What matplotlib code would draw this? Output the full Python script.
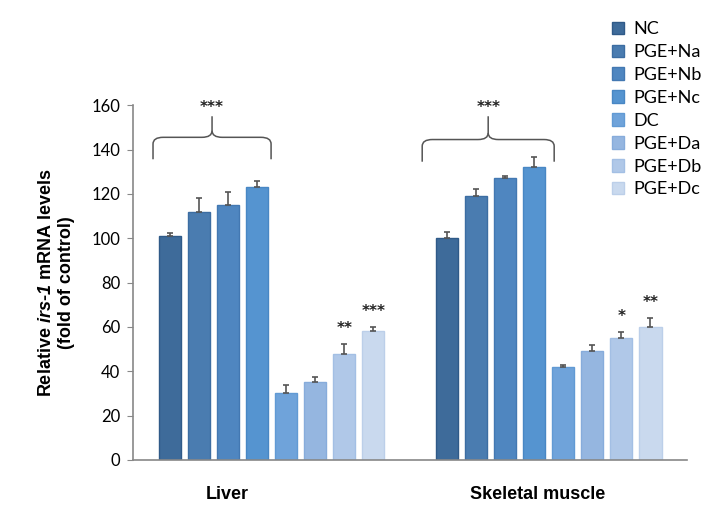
import numpy as np
import matplotlib
matplotlib.use("Agg")
import matplotlib.pyplot as plt
from matplotlib.path import Path
from matplotlib.patches import PathPatch

plt.rcParams["mathtext.fontset"] = "custom"
plt.rcParams["mathtext.bfit"] = "Liberation Sans:italic:bold"

# data
tissues = ["Liver", "Skeletal muscle"]
groups = ["NC", "PGE+Na", "PGE+Nb", "PGE+Nc", "DC", "PGE+Da", "PGE+Db", "PGE+Dc"]
liver = [101, 112, 115, 123, 30, 35, 48, 58]
liver_err = [1.5, 6, 6, 3, 4, 2.5, 4.5, 2]
muscle = [100, 119, 127, 132, 42, 49, 55, 60]
muscle_err = [3, 3, 1, 4.5, 1, 3, 2.5, 4]
liver_stars = ["", "", "", "", "", "", "**", "***"]
muscle_stars = ["", "", "", "", "", "", "*", "**"]
colors = ["#3e6b9a", "#4a7cb0", "#4f86c0", "#5594d0",
          "#6fa3da", "#95b6e0", "#b0c8e8", "#c9d9ee"]
edges = ["#2f5a88", "#3c6da2", "#4378b2", "#4887c4",
         "#619ad4", "#87acdb", "#a3bfe4", "#bccfe9"]

fig = plt.figure(figsize=(7.09, 5.15), dpi=100)
ax = fig.add_axes([0.1876, 0.1068, 0.781, 0.689])

centers = [0, 9.55]
w = 0.76
for c, vals, errs, stars in zip(centers, [liver, muscle], [liver_err, muscle_err],
                                [liver_stars, muscle_stars]):
    xs = c + np.arange(8) - 3.5
    for i in range(8):
        ax.bar(xs[i], vals[i], width=w, color=colors[i], edgecolor=edges[i], lw=1,
               label=groups[i] if c == 0 else None, zorder=2)
        ax.errorbar(xs[i], vals[i], yerr=[[0], [errs[i]]], fmt="none",
                    ecolor="#555555", elinewidth=1.2, capsize=2, capthick=1.2, zorder=3)
        if stars[i]:
            ax.text(xs[i], vals[i] + errs[i] + 7, stars[i], ha="center", va="center",
                    fontsize=11, fontweight="bold", color="#222222")


def brace(x0, x1, yb, ye, yt):
    xm = (x0 + x1) / 2
    r = 0.35
    verts = [(x0, ye), (x0, yb - 3), (x0, yb), (x0 + r, yb),
             (xm - r, yb), (xm, yb), (xm, yb + 3), (xm, yt)]
    codes = [Path.MOVETO, Path.LINETO, Path.CURVE3, Path.CURVE3,
             Path.LINETO, Path.CURVE3, Path.CURVE3, Path.LINETO]
    ax.add_patch(PathPatch(Path(verts, codes), fill=False, ec="#555555", lw=1.1, clip_on=False))
    verts = [(x1, ye), (x1, yb - 3), (x1, yb), (x1 - r, yb),
             (xm + r, yb), (xm, yb), (xm, yb + 3)]
    codes = [Path.MOVETO, Path.LINETO, Path.CURVE3, Path.CURVE3,
             Path.LINETO, Path.CURVE3, Path.CURVE3]
    ax.add_patch(PathPatch(Path(verts, codes), fill=False, ec="#555555", lw=1.1, clip_on=False))
    ax.text(xm, yt + 4, "***", ha="center", va="center", fontsize=11,
            fontweight="bold", color="#222222", clip_on=False)


brace(-4.1, -0.03, 145.5, 135.6, 155)
brace(5.18, 9.73, 144.5, 134.5, 155)

ax.set_xlim(-4.79, 14.3)
ax.set_ylim(0, 160)
ax.set_yticks(range(0, 161, 20))
ax.set_xticks([-1.54, 9.17])
ax.set_xticklabels(tissues, fontsize=13, fontweight="bold", family="Liberation Sans")
ax.tick_params(axis="x", length=0, pad=19)
ax.tick_params(axis="y", length=4, color="#888888", labelsize=12, pad=5)
for lab in ax.get_yticklabels():
    lab.set_family("Lato")
for s in ["top", "right"]:
    ax.spines[s].set_visible(False)
for s in ["left", "bottom"]:
    ax.spines[s].set_color("#888888")
    ax.spines[s].set_linewidth(1.2)

ax.set_ylabel("Relative $\\mathbfit{irs}$-$\\mathbfit{1}$ mRNA levels\n(fold of control)",
              fontsize=13, fontweight="bold", family="Liberation Sans", labelpad=12)

leg = fig.legend(loc="upper left", bbox_to_anchor=(0.84, 0.99), frameon=False,
                 handlelength=0.7, handleheight=0.7, handletextpad=0.5,
                 labelspacing=0.38, prop={"family": "Lato", "size": 13})

fig.savefig("out.png", dpi=100)
